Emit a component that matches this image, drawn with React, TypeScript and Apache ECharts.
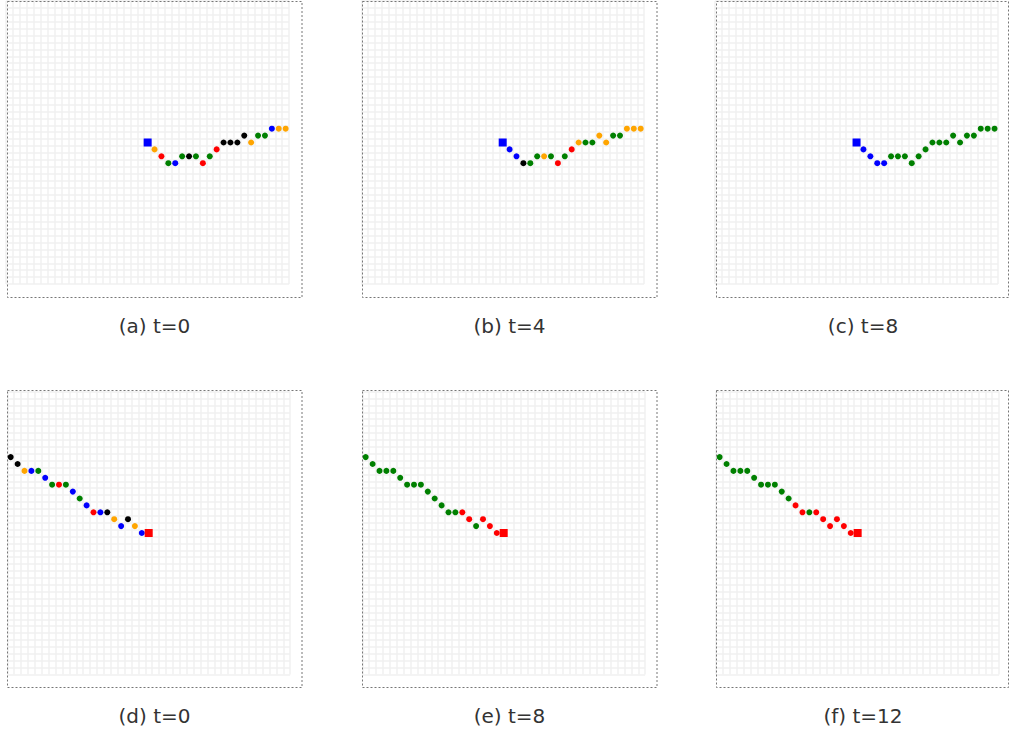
import React, { useEffect, useRef } from "react";
import * as echarts from "echarts";

// 41 x 41 occupancy grid, cells indexed 0..40
const GRID_N = 41;

// Path shown in the upper row (starts at the centre, heads right)
const topCols = [20, 21, 22, 23, 24, 25, 26, 27, 28, 29, 30, 31, 32, 33, 34, 35, 36, 37, 38, 39, 40];
const topRows = [20, 21, 22, 23, 23, 22, 22, 22, 23, 22, 21, 20, 20, 20, 19, 20, 19, 19, 18, 18, 18];

// Path shown in the lower row (comes in from the upper left, ends at the centre)
const bottomCols = [0, 1, 2, 3, 4, 5, 6, 7, 8, 9, 10, 11, 12, 13, 14, 15, 16, 17, 18, 19, 20];
const bottomRows = [9, 10, 11, 11, 11, 12, 13, 13, 13, 14, 15, 16, 17, 17, 17, 18, 19, 18, 19, 20, 20];

// Per-step colour codes: B blue, O orange, R red, G green, K black
const colorsA = ["B", "O", "R", "G", "B", "G", "K", "G", "R", "G", "R", "K", "K", "K", "K", "O", "G", "G", "B", "O", "O"];
const colorsB = ["B", "B", "B", "K", "G", "G", "O", "G", "R", "G", "R", "O", "G", "G", "O", "O", "G", "G", "O", "O", "O"];
const colorsC = ["B", "B", "B", "B", "B", "G", "G", "G", "G", "G", "G", "G", "G", "G", "G", "G", "G", "G", "G", "G", "G"];
const colorsD = ["K", "K", "O", "B", "G", "B", "G", "R", "G", "B", "G", "B", "R", "B", "K", "O", "B", "K", "O", "B", "R"];
const colorsE = ["G", "G", "G", "G", "G", "G", "G", "G", "G", "G", "G", "G", "G", "G", "R", "R", "G", "R", "R", "R", "R"];
const colorsF = ["G", "G", "G", "G", "G", "G", "G", "G", "G", "G", "G", "R", "R", "G", "R", "R", "R", "R", "R", "R", "R"];

const captions = ["(a) t=0", "(b) t=4", "(c) t=8", "(d) t=0", "(e) t=8", "(f) t=12"];

const PALETTE: Record<string, string> = {
  B: "#0000ff",
  O: "#ffa500",
  R: "#ff0000",
  G: "#008000",
  K: "#000000",
};

const CELL = 6.9;
const GRID_PX = GRID_N * CELL;

type Panel = {
  cols: number[];
  rows: number[];
  colors: string[];
  squareAt: number;
  left: number;
  top: number;
  frame: [number, number, number, number];
  caption: string;
  captionX: number;
  captionY: number;
};

const panels: Panel[] = [
  { cols: topCols, rows: topRows, colors: colorsA, squareAt: 0, left: 6.2, top: 1.05, frame: [7.5, 1.5, 294.5, 296], caption: captions[0], captionX: 154.5, captionY: 326 },
  { cols: topCols, rows: topRows, colors: colorsB, squareAt: 0, left: 361.25, top: 1.05, frame: [362.5, 1.5, 294.5, 296], caption: captions[1], captionX: 509.5, captionY: 326 },
  { cols: topCols, rows: topRows, colors: colorsC, squareAt: 0, left: 715.1, top: 1.05, frame: [716.5, 1.5, 292, 296], caption: captions[2], captionX: 863, captionY: 326 },
  { cols: bottomCols, rows: bottomRows, colors: colorsD, squareAt: 20, left: 7.25, top: 391.55, frame: [7.5, 390.5, 294.5, 297], caption: captions[3], captionX: 154.5, captionY: 716 },
  { cols: bottomCols, rows: bottomRows, colors: colorsE, squareAt: 20, left: 362.25, top: 391.55, frame: [362.5, 390.5, 294.5, 297], caption: captions[4], captionX: 509.5, captionY: 716 },
  { cols: bottomCols, rows: bottomRows, colors: colorsF, squareAt: 20, left: 716.2, top: 391.55, frame: [716.5, 390.5, 292, 297], caption: captions[5], captionX: 863, captionY: 716 },
];

function buildOption() {
  const gridLine = { show: true, lineStyle: { color: "#f1f1f1", width: 1.5 } };
  const hidden = { axisLine: { show: false }, axisTick: { show: false }, axisLabel: { show: false } };

  const grid = panels.map((p) => ({
    left: p.left,
    top: p.top,
    width: GRID_PX,
    height: GRID_PX,
    containLabel: false,
  }));

  const xAxis = panels.map((_, i) => ({
    type: "value",
    gridIndex: i,
    min: 0,
    max: GRID_N,
    interval: 1,
    splitLine: gridLine,
    ...hidden,
  }));

  const yAxis = panels.map((_, i) => ({
    type: "value",
    gridIndex: i,
    min: 0,
    max: GRID_N,
    interval: 1,
    inverse: true,
    splitLine: gridLine,
    ...hidden,
  }));

  const series = panels.map((p, i) => ({
    type: "scatter",
    xAxisIndex: i,
    yAxisIndex: i,
    silent: true,
    data: p.cols.map((c, k) => ({
      value: [c + 0.5, p.rows[k] + 0.5],
      symbol: k === p.squareAt ? "rect" : "circle",
      symbolSize: k === p.squareAt ? 8 : 6,
      itemStyle: { color: PALETTE[p.colors[k]], opacity: 1 },
    })),
  }));

  const graphic: any[] = [];
  panels.forEach((p) => {
    graphic.push({
      type: "rect",
      silent: true,
      z: 10,
      shape: { x: p.frame[0], y: p.frame[1], width: p.frame[2], height: p.frame[3] },
      style: { fill: "none", stroke: "#777777", lineWidth: 1, lineDash: [2, 2] },
    });
    graphic.push({
      type: "text",
      silent: true,
      x: p.captionX,
      y: p.captionY,
      style: {
        text: p.caption,
        fill: "#333333",
        fontSize: 20,
        fontFamily: "DejaVu Sans",
        textAlign: "center",
        textVerticalAlign: "middle",
      },
    });
  });

  return {
    animation: false,
    backgroundColor: "#ffffff",
    grid,
    xAxis,
    yAxis,
    series,
    graphic,
  };
}

export default function App() {
  const ref = useRef<HTMLDivElement>(null);

  useEffect(() => {
    if (!ref.current) return;
    const chart = echarts.init(ref.current, null, { renderer: "svg" });
    chart.setOption(buildOption() as any);
    return () => chart.dispose();
  }, []);

  return (
    <div
      ref={ref}
      style={{ position: "fixed", left: 0, top: 0, width: 1009, height: 738, background: "#ffffff" }}
    />
  );
}
